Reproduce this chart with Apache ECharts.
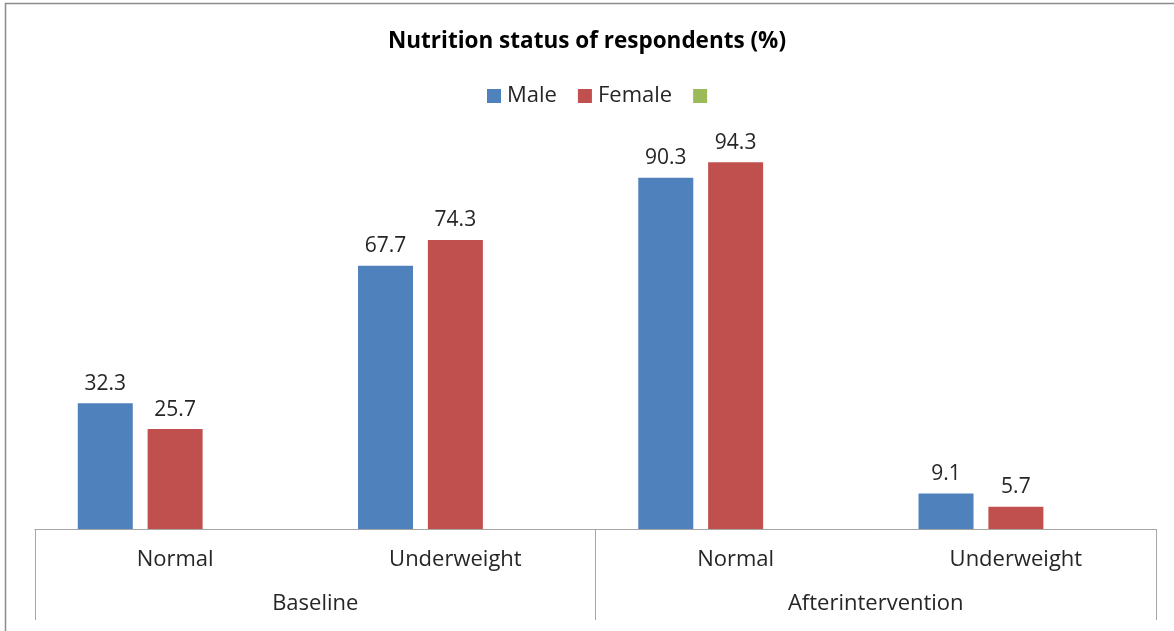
<!DOCTYPE html>
<html>
<head>
<meta charset="utf-8">
<script src="https://cdn.jsdelivr.net/npm/echarts@6/dist/echarts.min.js"></script>
<style>
  html, body { margin: 0; padding: 0; background: #fff; }
  #chart { width: 1174px; height: 631px; }
</style>
</head>
<body>
<div id="chart"></div>
<script>
// Nutrition status of respondents, by sex, before and after the intervention
const subCategories = ['Normal', 'Underweight', 'Normal', 'Underweight'];
const phases = ['Baseline', 'Afterintervention'];
const maleValues = [32.3, 67.7, 90.3, 9.1];
const femaleValues = [25.7, 74.3, 94.3, 5.7];
const thirdValues = [null, null, null, null];

const FONT = '"Open Sans", "Liberation Sans", sans-serif';
const TEXT = '#262626';

const chart = echarts.init(document.getElementById('chart'), null, { renderer: 'canvas' });

const labelCfg = {
  show: true,
  position: 'top',
  distance: 9,
  fontFamily: FONT,
  fontSize: 21,
  color: TEXT,
  formatter: p => p.value.toFixed(1)
};

chart.setOption({
  animation: false,
  backgroundColor: '#fff',
  title: {
    text: 'Nutrition status of respondents (%)',
    left: 'center',
    top: 25,
    textStyle: { fontFamily: FONT, fontSize: 22.5, fontWeight: 'bold', color: '#000' }
  },
  legend: {
    top: 80,
    left: 482,
    icon: 'rect',
    itemWidth: 14,
    itemHeight: 14,
    itemGap: 21,
    textStyle: { fontFamily: FONT, fontSize: 22, color: TEXT, padding: [0, 0, 0, 1] },
    data: ['Male', 'Female', ' ']
  },
  grid: { left: 35, right: 18, top: 140, bottom: 102 },
  xAxis: [
    {
      type: 'category',
      data: subCategories,
      position: 'bottom',
      axisLine: { show: true, lineStyle: { color: '#a6a6a6', width: 1 } },
      axisTick: { show: false },
      axisLabel: { margin: 20, fontFamily: FONT, fontSize: 22, color: TEXT }
    },
    {
      type: 'category',
      data: phases,
      position: 'bottom',
      axisLine: { show: false },
      axisTick: { show: true, inside: false, length: 91, lineStyle: { color: '#a6a6a6', width: 1 } },
      axisLabel: { margin: 64, fontFamily: FONT, fontSize: 22, color: TEXT }
    }
  ],
  yAxis: {
    type: 'value',
    min: 0,
    max: 100,
    show: false,
    splitLine: { show: false }
  },
  series: [
    {
      name: 'Male', type: 'bar', xAxisIndex: 0, data: maleValues,
      barWidth: 55, barGap: '27%', barCategoryGap: '30%',
      itemStyle: { color: '#4F81BD' }, label: labelCfg
    },
    {
      name: 'Female', type: 'bar', xAxisIndex: 0, data: femaleValues,
      barWidth: 55, barGap: '27%',
      itemStyle: { color: '#C0504D' }, label: labelCfg
    },
    {
      name: ' ', type: 'bar', xAxisIndex: 0, data: thirdValues,
      barWidth: 55, barGap: '27%',
      itemStyle: { color: '#9BBB59' }
    }
  ],
  graphic: [
    {
      type: 'rect',
      shape: { x: 5.5, y: 3.5, width: 1200, height: 700 },
      style: { fill: 'none', stroke: '#8c8c8c', lineWidth: 1.5 },
      silent: true
    }
  ]
});
</script>
</body>
</html>
